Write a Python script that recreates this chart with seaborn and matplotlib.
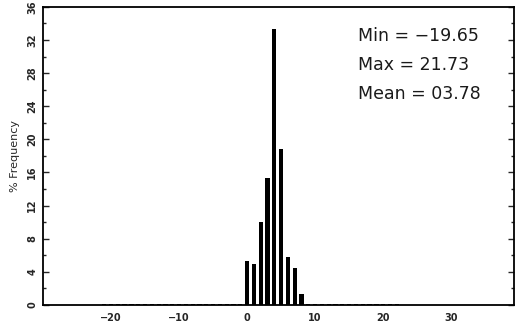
import matplotlib
matplotlib.use("Agg")
import matplotlib.pyplot as plt
import pandas as pd
import seaborn as sns

sns.set_style("white")

# histogram bins (integer centres) and % frequency
bins = [-21, -20, -19, -18, -17, -16, -15, -14, -13, -12, -11, -10, -9, -8, -7, -6, -5, -4, -3, -2, -1,
        0, 1, 2, 3, 4, 5, 6, 7, 8,
        9, 10, 11, 12, 13, 14, 15, 16, 17, 18, 19, 20, 21, 22]
freq = [0.1] * 21 + [5.3, 4.9, 10.0, 15.3, 33.3, 18.8, 5.8, 4.4, 1.3] + [0.15] * 14
stats_text = ["Min = \u221219.65", "Max = 21.73", "Mean = 03.78"]
x_ticks = [-20, -10, 0, 10, 20, 30]
y_ticks = [0, 4, 8, 12, 16, 20, 24, 28, 32, 36]

df = pd.DataFrame({"bin": bins, "freq": freq})

fig = plt.figure(figsize=(5.17, 3.30), dpi=100)
ax = fig.add_axes([0.083, 0.076, 0.911, 0.903])
sns.barplot(data=df, x="bin", y="freq", native_scale=True, width=0.62,
            color="black", edgecolor="black", linewidth=0, saturation=1, ax=ax)

ax.set_xlim(-30, 39.2)
ax.set_ylim(0, 36)
ax.set_xticks(x_ticks)
ax.set_xticklabels([str(v).replace("-", "\u2212") for v in x_ticks],
                   fontsize=7, fontweight="bold")
ax.set_yticks(y_ticks)
ax.set_yticklabels([str(v) for v in y_ticks], fontsize=7, fontweight="bold",
                   rotation=90, va="center")
ax.set_yticks(range(2, 36, 4), minor=True)
ax.tick_params(axis="y", which="both", direction="in", left=True, right=True,
               length=4, width=1, pad=4)
ax.tick_params(axis="y", which="minor", length=2)
ax.tick_params(axis="x", length=0, pad=6)
ax.set_xlabel("")
ax.set_ylabel("% Frequency", fontsize=8, labelpad=5)

for spine in ax.spines.values():
    spine.set_color("black")
    spine.set_linewidth(1.3)

# summary statistics box (top right)
for i, line in enumerate(stats_text):
    fig.text(358 / 517, 1 - (36 + i * 29) / 330, line, fontsize=12.5,
             family="DejaVu Sans", va="center", ha="left", color="#1a1a1a")

fig.savefig("out.png", dpi=100)
plt.close(fig)
